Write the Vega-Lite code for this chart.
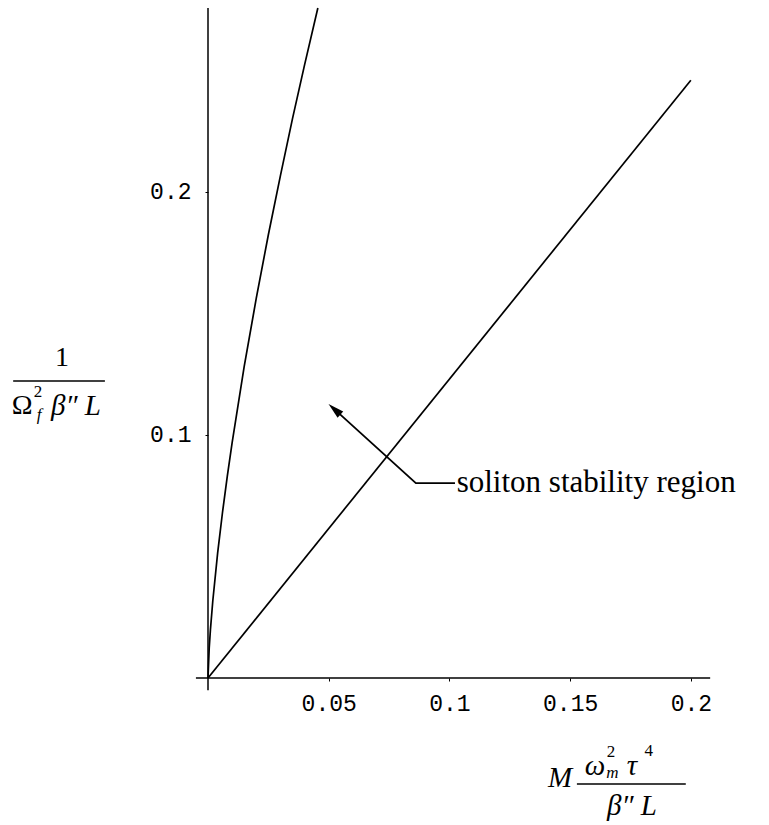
{
  "$schema": "https://vega.github.io/schema/vega-lite/v6.json",
  "width": 507,
  "height": 670,
  "autosize": "none",
  "padding": {"left": 208, "top": 8, "right": 54, "bottom": 147},
  "background": "white",
  "config": {"view": {"stroke": null}},
  "datasets": {
    "curves": [
      {"s": "upper", "x": 0, "y": 0},
      {"s": "upper", "x": 0.0005, "y": 0.0123},
      {"s": "upper", "x": 0.001, "y": 0.0198},
      {"s": "upper", "x": 0.002, "y": 0.0319},
      {"s": "upper", "x": 0.004, "y": 0.0515},
      {"s": "upper", "x": 0.006, "y": 0.0681},
      {"s": "upper", "x": 0.008, "y": 0.0831},
      {"s": "upper", "x": 0.010, "y": 0.0969},
      {"s": "upper", "x": 0.015, "y": 0.1282},
      {"s": "upper", "x": 0.020, "y": 0.1563},
      {"s": "upper", "x": 0.025, "y": 0.1824},
      {"s": "upper", "x": 0.030, "y": 0.2067},
      {"s": "upper", "x": 0.035, "y": 0.2302},
      {"s": "upper", "x": 0.040, "y": 0.2523},
      {"s": "upper", "x": 0.0455, "y": 0.2757},
      {"s": "lower", "x": 0, "y": 0},
      {"s": "lower", "x": 0.2, "y": 0.246}
    ],
    "axislines": [
      {"x": -0.005, "x2": 0.208, "y": 0, "y2": 0},
      {"x": 0, "x2": 0, "y": -0.005, "y2": 0.2757}
    ],
    "arrow": [
      {"i": 1, "x": 0.0530, "y": 0.1100},
      {"i": 2, "x": 0.0861, "y": 0.0802},
      {"i": 3, "x": 0.1023, "y": 0.0802}
    ],
    "arrowhead": [{"x": 0.0530, "y": 0.1100}],
    "note": [{"x": 0.1030, "y": 0.0802, "t": "soliton stability region"}],
    "bigUpright": [
      {"x": -0.0605, "y": 0.1317, "t": "1"},
      {"x": -0.0770, "y": 0.1120, "t": "Ω"}
    ],
    "bigItalicCenter": [
      {"x": 0.1458, "y": -0.0412, "t": "M"},
      {"x": 0.1603, "y": -0.0362, "t": "ω"},
      {"x": 0.1756, "y": -0.0362, "t": "τ"},
      {"x": 0.1756, "y": -0.0527, "t": "β″ L"}
    ],
    "bigItalicLeft": [
      {"x": -0.0650, "y": 0.1120, "t": "β″ L"}
    ],
    "smallUpright": [
      {"x": -0.0704, "y": 0.1177, "t": "2"},
      {"x": 0.1669, "y": -0.0305, "t": "2"},
      {"x": 0.1826, "y": -0.0300, "t": "4"}
    ],
    "smallItalic": [
      {"x": -0.0700, "y": 0.1082, "t": "f"},
      {"x": 0.1675, "y": -0.0391, "t": "m"}
    ],
    "bars": [
      {"x": -0.0807, "x2": -0.0427, "y": 0.1222},
      {"x": 0.1528, "x2": 0.1979, "y": -0.0436}
    ]
  },
  "layer": [
    {
      "data": {"name": "curves"},
      "mark": {"type": "line", "color": "black", "strokeWidth": 1.7, "clip": false},
      "encoding": {
        "x": {
          "field": "x", "type": "quantitative",
          "scale": {"domain": [0, 0.21], "nice": false, "zero": false},
          "axis": {
            "values": [0.05, 0.1, 0.15, 0.2], "format": "~g", "title": null,
            "domain": false, "grid": false, "tickSize": 3, "tickColor": "black",
            "labelFont": "Liberation Mono", "labelFontSize": 23, "labelColor": "black",
            "labelPadding": 11, "labelFlush": false
          }
        },
        "y": {
          "field": "y", "type": "quantitative",
          "scale": {"domain": [0, 0.2757], "nice": false, "zero": false},
          "axis": {
            "values": [0.1, 0.2], "format": "~g", "title": null,
            "domain": false, "grid": false, "tickSize": 3, "tickColor": "black",
            "labelFont": "Liberation Mono", "labelFontSize": 23, "labelColor": "black",
            "labelPadding": 14, "labelFlush": false
          }
        },
        "detail": {"field": "s"}
      }
    },
    {
      "data": {"name": "axislines"},
      "mark": {"type": "rule", "color": "black", "strokeWidth": 1.5},
      "encoding": {
        "x": {"field": "x", "type": "quantitative"},
        "x2": {"field": "x2"},
        "y": {"field": "y", "type": "quantitative"},
        "y2": {"field": "y2"}
      }
    },
    {
      "data": {"name": "arrow"},
      "mark": {"type": "line", "color": "black", "strokeWidth": 1.8},
      "encoding": {
        "x": {"field": "x", "type": "quantitative"},
        "y": {"field": "y", "type": "quantitative"},
        "order": {"field": "i"}
      }
    },
    {
      "data": {"name": "arrowhead"},
      "mark": {"type": "point", "shape": "M0,-1L0.42,0.6L-0.42,0.6Z", "filled": true, "color": "black", "size": 400, "angle": 312, "opacity": 1},
      "encoding": {
        "x": {"field": "x", "type": "quantitative"},
        "y": {"field": "y", "type": "quantitative"}
      }
    },
    {
      "data": {"name": "note"},
      "mark": {"type": "text", "font": "Liberation Serif", "fontSize": 31, "align": "left", "baseline": "middle", "color": "black"},
      "encoding": {
        "x": {"field": "x", "type": "quantitative"},
        "y": {"field": "y", "type": "quantitative"},
        "text": {"field": "t"}
      }
    },
    {
      "data": {"name": "bigUpright"},
      "mark": {"type": "text", "font": "Liberation Serif", "fontSize": 28, "align": "center", "baseline": "middle", "color": "black"},
      "encoding": {
        "x": {"field": "x", "type": "quantitative"},
        "y": {"field": "y", "type": "quantitative"},
        "text": {"field": "t"}
      }
    },
    {
      "data": {"name": "bigItalicCenter"},
      "mark": {"type": "text", "font": "Liberation Serif", "fontStyle": "italic", "fontSize": 29, "align": "center", "baseline": "middle", "color": "black"},
      "encoding": {
        "x": {"field": "x", "type": "quantitative"},
        "y": {"field": "y", "type": "quantitative"},
        "text": {"field": "t"}
      }
    },
    {
      "data": {"name": "bigItalicLeft"},
      "mark": {"type": "text", "font": "Liberation Serif", "fontStyle": "italic", "fontSize": 29, "align": "left", "baseline": "middle", "color": "black"},
      "encoding": {
        "x": {"field": "x", "type": "quantitative"},
        "y": {"field": "y", "type": "quantitative"},
        "text": {"field": "t"}
      }
    },
    {
      "data": {"name": "smallUpright"},
      "mark": {"type": "text", "font": "Liberation Serif", "fontSize": 17, "align": "center", "baseline": "middle", "color": "black"},
      "encoding": {
        "x": {"field": "x", "type": "quantitative"},
        "y": {"field": "y", "type": "quantitative"},
        "text": {"field": "t"}
      }
    },
    {
      "data": {"name": "smallItalic"},
      "mark": {"type": "text", "font": "Liberation Serif", "fontStyle": "italic", "fontSize": 17, "align": "center", "baseline": "middle", "color": "black"},
      "encoding": {
        "x": {"field": "x", "type": "quantitative"},
        "y": {"field": "y", "type": "quantitative"},
        "text": {"field": "t"}
      }
    },
    {
      "data": {"name": "bars"},
      "mark": {"type": "rule", "color": "black", "strokeWidth": 1.5},
      "encoding": {
        "x": {"field": "x", "type": "quantitative"},
        "x2": {"field": "x2"},
        "y": {"field": "y", "type": "quantitative"}
      }
    }
  ]
}
